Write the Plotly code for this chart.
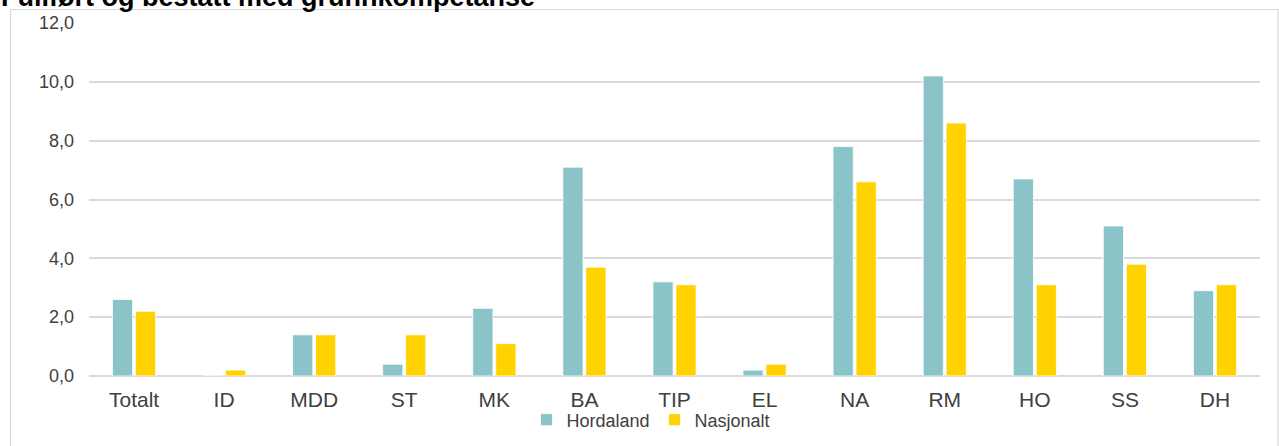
import plotly.graph_objects as go

categories = ["Totalt", "ID", "MDD", "ST", "MK", "BA", "TIP", "EL", "NA", "RM", "HO", "SS", "DH"]
hordaland = [2.6, 0.0, 1.4, 0.4, 2.3, 7.1, 3.2, 0.2, 7.8, 10.2, 6.7, 5.1, 2.9]
nasjonalt = [2.2, 0.2, 1.4, 1.4, 1.1, 3.7, 3.1, 0.4, 6.6, 8.6, 3.1, 3.8, 3.1]
series_names = ["Hordaland", "Nasjonalt"]
title_text = "Fullført og bestått med grunnkompetanse"
y_ticks = [0, 2, 4, 6, 8, 10, 12]

W, H = 1279, 446
L, R, T = 89, 1279 - 1260, 23
B = H - 376
pw, ph = W - L - R, H - T - B

def px_x(x):
    return (x - L) / pw

def px_y(y):
    return (H - B - y) / ph

FONT = "Liberation Sans, Arial, sans-serif"

fig = go.Figure()
fig.add_trace(go.Bar(x=categories, y=hordaland, name=series_names[0],
                     marker=dict(color="#8BC4C8", line=dict(color="white", width=0.8))))
fig.add_trace(go.Bar(x=categories, y=nasjonalt, name=series_names[1],
                     marker=dict(color="#FFD200", line=dict(color="white", width=0.8))))

fig.update_layout(
    width=W, height=H,
    margin=dict(l=L, r=R, t=T, b=B, pad=0, autoexpand=False),
    plot_bgcolor="white", paper_bgcolor="white",
    barmode="group", bargap=0.49, bargroupgap=0.12,
    separators=", ",
    font=dict(family=FONT, color="#404040"),
    showlegend=True,
    legend=dict(orientation="h", x=px_x(651), xanchor="center", y=px_y(420), yanchor="middle",
                font=dict(size=18, color="#404040", family=FONT), itemwidth=30,
                traceorder="normal", bgcolor="rgba(0,0,0,0)"),
    xaxis=dict(showgrid=False, showline=False, ticks="", tickfont=dict(size=21, color="#404040"),
               fixedrange=True, ticklabelstandoff=9),
    yaxis=dict(range=[0, 12], tickvals=y_ticks, tickformat=".1f", showgrid=True,
               gridcolor="#DCD8DE", gridwidth=1.5, zeroline=True, zerolinecolor="#DCD8DE",
               zerolinewidth=1.5, showline=False, tickfont=dict(size=18, color="#404040"),
               ticklabelstandoff=14),
)

# outer chart border
fig.add_shape(type="rect", xref="paper", yref="paper",
              x0=px_x(10.5), x1=px_x(1278), y0=px_y(470), y1=px_y(9.5),
              line=dict(color="#D9D9D9", width=1.2), fillcolor="rgba(0,0,0,0)", layer="below")

# cut-off title
fig.add_annotation(text="<b>" + title_text + "</b>", xref="paper", yref="paper",
                   x=px_x(-1), y=px_y(14), xanchor="left", yanchor="bottom", showarrow=False,
                   font=dict(size=27, color="#000000", family=FONT))

fig.write_html("out.html", config={"displayModeBar": False},
               post_script="document.body.style.margin='0';")
